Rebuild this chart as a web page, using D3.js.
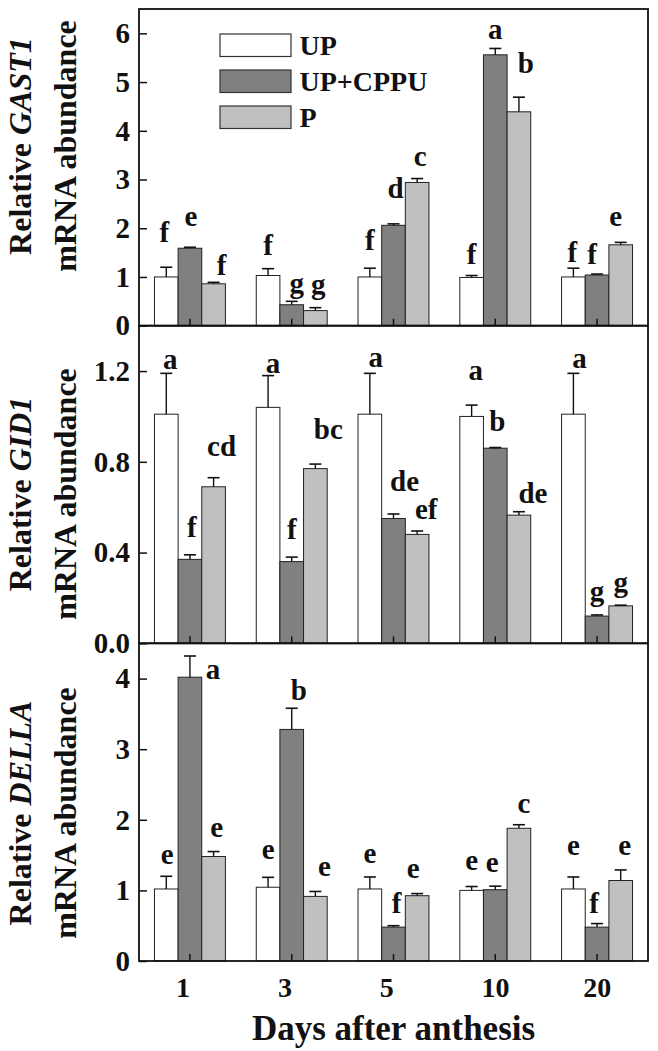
<!DOCTYPE html>
<html><head><meta charset="utf-8">
<script src="https://cdn.jsdelivr.net/npm/d3@7"></script>
<style>html,body{margin:0;padding:0;background:#fff;}svg{display:block;}</style>
</head><body>
<script>
// ---------------- DATA ----------------
const days = ["1", "3", "5", "10", "20"];
const series = ["UP", "UP+CPPU", "P"];

const gast1UP = [1.00, 1.03, 1.00, 0.99, 1.00];
const gast1UPErr = [0.20, 0.14, 0.18, 0.04, 0.18];
const gast1CPPU = [1.59, 0.43, 2.06, 5.56, 1.04];
const gast1CPPUErr = [0.02, 0.07, 0.03, 0.13, 0.02];
const gast1P = [0.86, 0.31, 2.94, 4.39, 1.66];
const gast1PErr = [0.03, 0.06, 0.08, 0.30, 0.05];
const gast1Letters = [["f","f","f","f","f"], ["e","g","d","a","f"], ["f","g","c","b","e"]];

const gid1UP = [1.01, 1.04, 1.01, 1.00, 1.01];
const gid1UPErr = [0.18, 0.14, 0.18, 0.05, 0.18];
const gid1CPPU = [0.37, 0.36, 0.55, 0.86, 0.12];
const gid1CPPUErr = [0.02, 0.02, 0.02, 0.003, 0.005];
const gid1P = [0.69, 0.77, 0.48, 0.565, 0.165];
const gid1PErr = [0.04, 0.02, 0.015, 0.015, 0.003];
const gid1Letters = [["a","a","a","a","a"], ["f","f","de","b","g"], ["cd","bc","ef","de","g"]];

const dellaUP = [1.02, 1.045, 1.02, 1.00, 1.02];
const dellaUPErr = [0.18, 0.14, 0.17, 0.055, 0.17];
const dellaCPPU = [4.02, 3.28, 0.48, 1.01, 0.48];
const dellaCPPUErr = [0.30, 0.30, 0.02, 0.05, 0.05];
const dellaP = [1.48, 0.915, 0.925, 1.88, 1.14];
const dellaPErr = [0.07, 0.07, 0.03, 0.05, 0.15];
const dellaLetters = [["e","e","e","e","e"], ["a","b","f","e","f"], ["e","e","e","c","e"]];

const gast1Ticks = [0, 1, 2, 3, 4, 5, 6];
const gid1Ticks = [0, 0.4, 0.8, 1.2];
const dellaTicks = [0, 1, 2, 3, 4];

const xTitle = "Days after anthesis";

// ---------------- LAYOUT / STYLE ----------------
const W = 658, H = 1051;
const frameL = 139, frameR = 648;
const fills = ["#ffffff", "#808080", "#c0c0c0"];
const FONT = "'Liberation Serif','Times New Roman',Times,serif";

// letter placement (gap above error cap in px, horizontal nudge in px)
const gast1Gap = [[25,14,18,12,6],[21,8,26,9,10],[7,14,13,24,16]];
const gast1Dx  = [[-2,0,0,0,-1],[1,5,2,0,-5],[8,3,3,7,-5]];
const gid1Gap  = [[4,3,6,25,5],[18,18,23,17,14],[22,25,12,9,13]];
const gid1Dx   = [[4,5,6,4,6],[2,0,11,2,0],[8,13,9,14,0]];
const dellaGap = [[12,18,14,17,22],[-23,8,13,14,11],[15,15,16,12,15]];
const dellaDx  = [[1,0,0,0,0],[23,7,3,-3,-3],[3,9,-4,5,4]];

const panels = [
  {top: 9, bottom: 325.7, max: 6.5, ticks: gast1Ticks, fmt: d3.format("d"),
   vals: [gast1UP, gast1CPPU, gast1P], errs: [gast1UPErr, gast1CPPUErr, gast1PErr],
   letters: gast1Letters, gap: gast1Gap, dx: gast1Dx, gene: "GAST1", labelY: 146},
  {top: 325.7, bottom: 643.3, max: 1.4, ticks: gid1Ticks, fmt: d3.format(".1f"),
   vals: [gid1UP, gid1CPPU, gid1P], errs: [gid1UPErr, gid1CPPUErr, gid1PErr],
   letters: gid1Letters, gap: gid1Gap, dx: gid1Dx, gene: "GID1", labelY: 494},
  {top: 643.3, bottom: 961, max: 4.5, ticks: dellaTicks, fmt: d3.format("d"),
   vals: [dellaUP, dellaCPPU, dellaP], errs: [dellaUPErr, dellaCPPUErr, dellaPErr],
   letters: dellaLetters, gap: dellaGap, dx: dellaDx, gene: "DELLA", labelY: 813}
];

const svg = d3.select("body").append("svg").attr("width", W).attr("height", H)
  .style("font-family", FONT).style("font-weight", "bold");
svg.append("rect").attr("width", W).attr("height", H).attr("fill", "#fff");

const x = d3.scaleBand().domain(days).range([frameL, frameR]).paddingInner(0.303).paddingOuter(0.152);
const xs = d3.scaleBand().domain(series).range([0, x.bandwidth()]).padding(0);

panels.forEach((p, pi) => {
  const y = d3.scaleLinear().domain([0, p.max]).range([p.bottom, p.top]);
  const g = svg.append("g");

  // bars
  series.forEach((s, si) => {
    days.forEach((d, di) => {
      const v = p.vals[si][di], e = p.errs[si][di];
      const bx = x(d) + xs(s), bw = xs.bandwidth();
      const cx = bx + bw / 2;
      g.append("rect").attr("x", bx).attr("y", y(v)).attr("width", bw)
        .attr("height", y(0) - y(v)).attr("fill", fills[si])
        .attr("stroke", "#222").attr("stroke-width", 1);
      // error bar
      g.append("line").attr("x1", cx).attr("x2", cx).attr("y1", y(v)).attr("y2", y(v + e))
        .attr("stroke", "#111").attr("stroke-width", 1.4);
      g.append("line").attr("x1", cx - 6).attr("x2", cx + 6).attr("y1", y(v + e)).attr("y2", y(v + e))
        .attr("stroke", "#111").attr("stroke-width", 1.6);
      // letter
      g.append("text").attr("x", cx + p.dx[si][di]).attr("y", y(v + e) - p.gap[si][di])
        .attr("text-anchor", "middle").attr("font-size", 29).attr("fill", "#111")
        .text(p.letters[si][di]);
    });
  });

  // y axis (ticks inward)
  const ya = svg.append("g").attr("transform", `translate(${frameL},0)`)
    .call(d3.axisLeft(y).tickValues(p.ticks).tickFormat(p.fmt).tickSizeInner(-8).tickSizeOuter(0).tickPadding(9));
  ya.select(".domain").remove();
  ya.selectAll("line").attr("stroke", "#111").attr("stroke-width", 1.5);
  ya.selectAll("text").attr("font-size", 29).attr("font-family", FONT).attr("font-weight", "bold").attr("fill", "#111");

  // x axis ticks inward
  const xa = svg.append("g").attr("transform", `translate(0,${p.bottom})`)
    .call(d3.axisBottom(x).tickSizeInner(-7).tickSizeOuter(0).tickFormat(""));
  xa.select(".domain").remove();
  xa.selectAll("line").attr("stroke", "#111").attr("stroke-width", 1.5);

  // frame
  svg.append("rect").attr("x", frameL).attr("y", p.top).attr("width", frameR - frameL)
    .attr("height", p.bottom - p.top).attr("fill", "none").attr("stroke", "#111").attr("stroke-width", 1.8);

  // y title (two lines)
  const t1 = svg.append("text").attr("transform", `translate(31,${p.labelY}) rotate(-90)`)
    .attr("text-anchor", "middle").attr("font-size", 32).attr("fill", "#111");
  t1.append("tspan").text("Relative ");
  t1.append("tspan").attr("font-style", "italic").text(p.gene);
  svg.append("text").attr("transform", `translate(76,${p.labelY}) rotate(-90)`)
    .attr("text-anchor", "middle").attr("font-size", 32).attr("fill", "#111")
    .text("mRNA abundance");

  if (pi === panels.length - 1) {
    days.forEach(d => {
      svg.append("text").attr("x", x(d) + xs("UP+CPPU") - 2).attr("y", p.bottom + 36)
        .attr("text-anchor", "start").attr("font-size", 28).attr("fill", "#111").text(d);
    });
    svg.append("text").attr("x", (frameL + frameR) / 2).attr("y", 1040)
      .attr("text-anchor", "middle").attr("font-size", 35).attr("fill", "#111").text(xTitle);
  }
});

// legend
const leg = svg.append("g").attr("transform", "translate(220,34)");
series.forEach((s, i) => {
  leg.append("rect").attr("x", 0).attr("y", i * 36).attr("width", 71).attr("height", 22.5)
    .attr("fill", fills[i]).attr("stroke", "#333").attr("stroke-width", 1.2);
  leg.append("text").attr("x", 79.5).attr("y", i * 36 + 21).attr("font-size", 28)
    .attr("fill", "#111").text(s);
});
</script>
</body></html>
